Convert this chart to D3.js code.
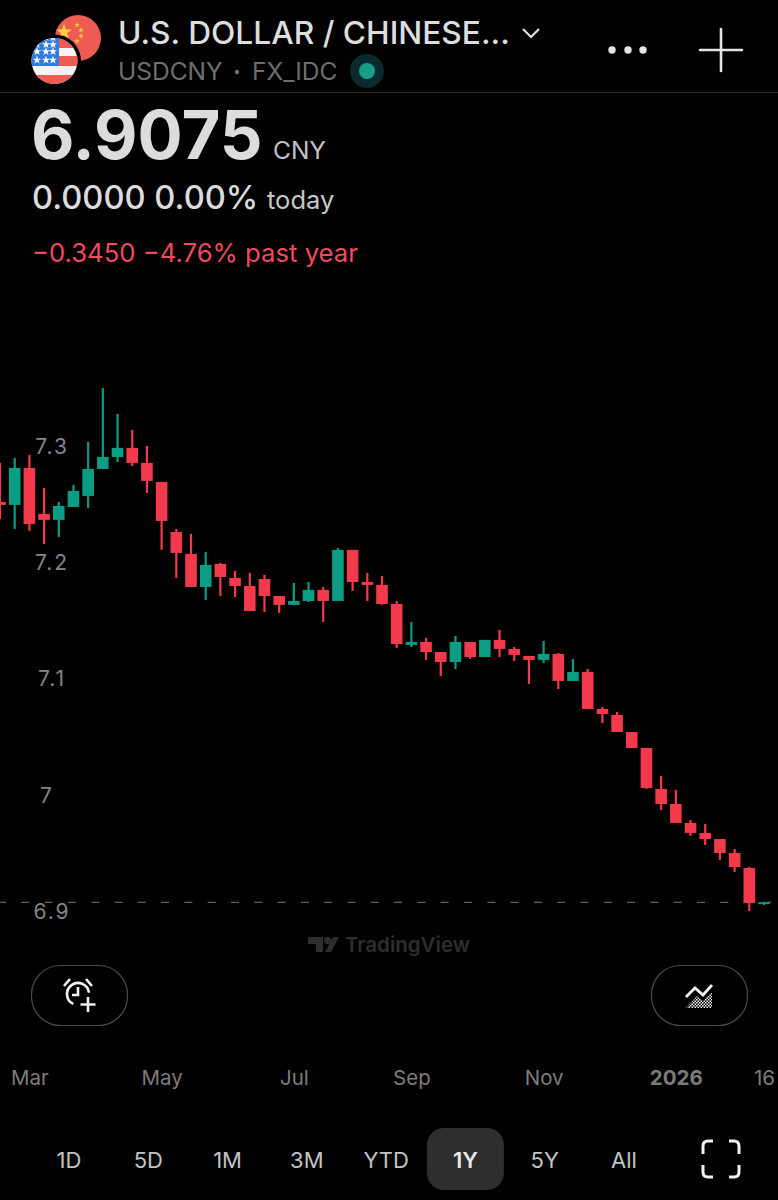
<!DOCTYPE html>
<html>
<head>
<meta charset="utf-8">
<title>USDCNY</title>
<script src="https://d3js.org/d3.v7.min.js"></script>
<style>
  html, body { margin: 0; background: #000; }
  svg { display: block; }
  text { font-family: Inter, "Noto Sans", sans-serif; }
</style>
</head>
<body>
<div id="chart"></div>
<script>
// weekly candles
const opens = [7.2517,7.2492,7.2810,7.2414,7.2363,7.2474,7.2569,7.2801,7.2904,7.2982,7.2853,7.2689,7.2259,7.2070,7.1786,7.1984,7.1864,7.1795,7.1855,7.1709,7.1632,7.1666,7.1761,7.1666,7.2105,7.1829,7.1804,7.1640,7.1288,7.1313,7.1227,7.1141,7.1313,7.1184,7.1331,7.1253,7.1193,7.1159,7.1210,7.0978,7.1055,7.0737,7.0686,7.0539,7.0402,7.0049,6.9920,6.9757,6.9671,6.9619,6.9499,6.9370,6.9060];
const highs = [7.2853,7.2896,7.2922,7.2638,7.2517,7.2664,7.3033,7.3497,7.3274,7.3137,7.2999,7.2689,7.2285,7.2242,7.2087,7.1993,7.1924,7.1907,7.1890,7.1709,7.1821,7.1829,7.1786,7.2122,7.2105,7.1907,7.1881,7.1666,7.1485,7.1348,7.1227,7.1365,7.1313,7.1331,7.1417,7.1270,7.1193,7.1322,7.1219,7.1167,7.1081,7.0754,7.0711,7.0539,7.0402,7.0161,7.0041,6.9783,6.9748,6.9619,6.9533,6.9378,6.9080];
const lows = [7.2371,7.2285,7.2268,7.2156,7.2216,7.2474,7.2466,7.2801,7.2861,7.2827,7.2595,7.2105,7.1864,7.1786,7.1675,7.1709,7.1700,7.1580,7.1571,7.1563,7.1632,7.1657,7.1485,7.1666,7.1752,7.1666,7.1632,7.1262,7.1270,7.1159,7.1021,7.1081,7.1167,7.1184,7.1184,7.1150,7.0952,7.1133,7.0909,7.0978,7.0737,7.0617,7.0539,7.0402,7.0049,6.9869,6.9757,6.9645,6.9568,6.9439,6.9335,6.9000,6.9052];
const closes = [7.2492,7.2810,7.2328,7.2363,7.2483,7.2612,7.2801,7.2904,7.2982,7.2853,7.2698,7.2354,7.2079,7.1786,7.1976,7.1872,7.1795,7.1580,7.1709,7.1632,7.1666,7.1761,7.1666,7.2105,7.1829,7.1804,7.1640,7.1296,7.1313,7.1227,7.1141,7.1313,7.1184,7.1331,7.1253,7.1202,7.1159,7.1210,7.0978,7.1055,7.0737,7.0694,7.0539,7.0402,7.0058,6.9920,6.9757,6.9671,6.9619,6.9499,6.9378,6.9069,6.9075];

const yTicks = [6.9, 7, 7.1, 7.2, 7.3];
const xTickIndex = [2, 11, 20, 28, 37, 46, 52];
const xTickLabels = ['Mar', 'May', 'Jul', 'Sep', 'Nov', '2026', '16'];
const lastPrice = 6.9075;
const ranges = ['1D', '5D', '1M', '3M', 'YTD', '1Y', '5Y', 'All'];
const activeRange = '1Y';

const width = 778;
const height = 1200;
const red = '#f23a4c';
const green = '#0b9c84';

const svg = d3.select('#chart').append('svg')
  .attr('width', width)
  .attr('height', height)
  .style('background', '#000');

const defs = svg.append('defs');

// scales
const x = d3.scaleLinear().domain([0, opens.length - 1]).range([0, 764]);
const y = d3.scaleLinear().domain([6.9, 7.3]).range([911, 445.8]);
const bodyWidth = 11.6;

// price axis sits under the candles
const yAxis = svg.append('g')
  .call(d3.axisLeft(y).tickValues(yTicks).tickSize(0).tickFormat(d3.format('')));
yAxis.select('.domain').remove();
yAxis.selectAll('text')
  .attr('x', d => d === 7 ? 47 : 52)
  .attr('dy', '0.36em')
  .attr('text-anchor', 'middle')
  .style('font-family', 'Inter, sans-serif')
  .style('font-size', '21px')
  .style('letter-spacing', '2px')
  .attr('fill', '#858585');

// last price line
svg.append('line')
  .attr('x1', 0).attr('x2', 771)
  .attr('y1', y(lastPrice)).attr('y2', y(lastPrice))
  .attr('stroke', '#5f5f5f')
  .attr('stroke-width', 1.2)
  .attr('stroke-dasharray', '8 15.3')
  .attr('stroke-dashoffset', 2);

// candles
const candles = svg.append('g').selectAll('g')
  .data(opens.map((o, i) => i))
  .enter().append('g')
  .attr('fill', i => closes[i] >= opens[i] ? green : red);

candles.append('rect')
  .attr('x', i => x(i) - 1.1)
  .attr('width', 2.2)
  .attr('y', i => y(highs[i]))
  .attr('height', i => y(lows[i]) - y(highs[i]));

candles.append('rect')
  .attr('x', i => x(i) - bodyWidth / 2)
  .attr('width', bodyWidth)
  .attr('y', i => y(Math.max(opens[i], closes[i])))
  .attr('height', i => Math.max(1.5, Math.abs(y(opens[i]) - y(closes[i]))));

// time axis
const xAxis = svg.append('g')
  .attr('transform', 'translate(0,1078)')
  .call(d3.axisBottom(x).tickValues(xTickIndex).tickSize(0)
    .tickFormat((d, i) => xTickLabels[i]));
xAxis.select('.domain').remove();
xAxis.selectAll('text')
  .attr('y', 0)
  .attr('dy', '0.36em')
  .style('font-family', 'Inter, sans-serif')
  .style('font-size', '20.5px')
  .style('font-weight', (d, i) => xTickLabels[i] === '2026' ? 700 : 400)
  .attr('fill', '#7c7c7c');

// helper for the header and footer texts
function label(txt, px, py, size, color, weight, anchor) {
  return svg.append('text')
    .attr('x', px).attr('y', py)
    .attr('fill', color)
    .attr('text-anchor', anchor || 'start')
    .style('font-size', size + 'px')
    .style('font-weight', weight || 400)
    .text(txt);
}

// flags
defs.append('clipPath').attr('id', 'cnClip').append('circle').attr('cx', 78).attr('cy', 38).attr('r', 23);
defs.append('clipPath').attr('id', 'usClip').append('circle').attr('cx', 54.5).attr('cy', 61).attr('r', 23);

svg.append('circle').attr('cx', 78).attr('cy', 38).attr('r', 23).attr('fill', '#ee5b52');
const starPath = d3.symbol().type(d3.symbolStar);
svg.append('path').attr('d', starPath.size(80)()).attr('transform', 'translate(64,32)').attr('fill', '#ffd23f');
[[77, 25], [81, 30], [81, 36], [77, 41]].forEach(p => {
  svg.append('path').attr('d', starPath.size(10)()).attr('transform', `translate(${p[0]},${p[1]})`).attr('fill', '#ffc93c');
});
svg.append('circle').attr('cx', 54.5).attr('cy', 61).attr('r', 26.5).attr('fill', '#000');

const us = svg.append('g').attr('clip-path', 'url(#usClip)');
us.append('rect').attr('x', 31).attr('y', 38).attr('width', 47).attr('height', 47).attr('fill', '#f3f3f3');
[[38, 10], [56, 10], [75, 10]].forEach(s => {
  us.append('rect').attr('x', 31).attr('y', s[0]).attr('width', 47).attr('height', s[1]).attr('fill', '#ee5b52');
});
us.append('rect').attr('x', 31).attr('y', 38).attr('width', 28).attr('height', 28).attr('fill', '#2f7be0');
[[46, 44], [53, 44], [53, 37], [46, 51], [53, 51], [37, 51], [46, 37], [37, 44]].forEach(p => {
  us.append('path').attr('d', starPath.size(22)()).attr('transform', `translate(${p[0]},${p[1] + 0.5})`).attr('fill', '#fff');
});
[[37, 60], [46, 60], [53, 60]].forEach(p => {
  us.append('path').attr('d', starPath.size(22)()).attr('transform', `translate(${p[0]},${p[1]})`).attr('fill', '#fff');
});

// header
label('U.S. DOLLAR / CHINESE...', 118, 44, 31.7, '#dedede', 500);
svg.append('path').attr('d', 'M523 29 L531 37 L539 29').attr('fill', 'none').attr('stroke', '#dedede').attr('stroke-width', 2.2);
label('USDCNY', 118, 80, 24.5, '#6e6e6e');
svg.append('circle').attr('cx', 237).attr('cy', 72).attr('r', 2.2).attr('fill', '#6e6e6e');
label('FX_IDC', 252, 80, 24.5, '#6e6e6e');
svg.append('circle').attr('cx', 367).attr('cy', 71).attr('r', 17).attr('fill', '#0b2a2e');
svg.append('circle').attr('cx', 367).attr('cy', 71).attr('r', 8).attr('fill', '#159f89');
[612, 628, 643].forEach(cx => {
  svg.append('circle').attr('cx', cx).attr('cy', 50).attr('r', 3.7).attr('fill', '#e4e4e4');
});
svg.append('path').attr('d', 'M700 50 H742 M721 29 V71').attr('stroke', '#e4e4e4').attr('stroke-width', 2.6).attr('stroke-linecap', 'round');
svg.append('line').attr('x1', 0).attr('x2', width).attr('y1', 92.5).attr('y2', 92.5).attr('stroke', '#2b2b2b').attr('stroke-width', 1);

label('6.9075', 31, 159, 67, '#dcdcdc', 700);
label('CNY', 273, 159, 24.5, '#c2c2c2');
label('0.0000 0.00%', 32, 209, 32.7, '#dcdcdc', 500);
label('today', 267, 209, 25.5, '#c8c8c8');
label('\u22120.3450 \u22124.76% past year', 32, 262, 25.7, '#f2495c');

// watermark
svg.append('path').attr('d', 'M308 937 H323 V952 H316 V944 H308 Z M333 937 H339 L331 952 H325 Z').attr('fill', '#2e2e2e');
svg.append('circle').attr('cx', 327.5).attr('cy', 940.5).attr('r', 3.5).attr('fill', '#2e2e2e');
label('TradingView', 345, 952, 20.5, '#2e2e2e', 600);

// buttons
[[31.5, 965.5], [651.5, 965.5]].forEach(b => {
  svg.append('rect').attr('x', b[0]).attr('y', b[1]).attr('width', 96).attr('height', 60).attr('rx', 29)
    .attr('fill', 'none').attr('stroke', '#4a4a4a').attr('stroke-width', 1.2);
});

// alarm icon
const alarm = svg.append('g').attr('fill', 'none').attr('stroke', '#f2f2f2').attr('stroke-width', 2.6);
alarm.append('path').attr('d', d3.arc()({ innerRadius: 11, outerRadius: 11, startAngle: -2.7, endAngle: 1.45 })).attr('transform', 'translate(78,994)');
alarm.append('path').attr('d', 'M78 987 V995 H72 M64 986 L70 979 M92 986 L86 979');
alarm.append('path').attr('d', 'M88 997 V1012 M80.5 1004.5 H95.5');

// area icon with its checker fill
const checks = defs.append('pattern').attr('id', 'checks').attr('width', 3).attr('height', 3)
  .attr('patternUnits', 'userSpaceOnUse');
checks.append('rect').attr('width', 1.5).attr('height', 1.5).attr('fill', '#eee');
checks.append('rect').attr('x', 1.5).attr('y', 1.5).attr('width', 1.5).attr('height', 1.5).attr('fill', '#eee');
svg.append('path').attr('d', 'M686 1008 L697 996 L703 1001 L712 992 V1008 Z').attr('fill', 'url(#checks)');
svg.append('path').attr('d', 'M686 997 L695 988 L703 995 L712 985').attr('fill', 'none').attr('stroke', '#f2f2f2').attr('stroke-width', 2.8);

// range selector
const rangeX = d3.scalePoint().domain(ranges).range([69, 624]);
svg.append('rect')
  .attr('x', rangeX(activeRange) - 38.5).attr('y', 1128)
  .attr('width', 77).attr('height', 62).attr('rx', 17)
  .attr('fill', '#2e2e2e');
ranges.forEach(r => {
  label(r, rangeX(r), 1168, 22, r === activeRange ? '#e8e8e8' : '#c4c4c4', r === activeRange ? 600 : 400, 'middle');
});

// fullscreen icon
svg.append('path')
  .attr('d', 'M703 1154 V1146 Q703 1141 708 1141 H713 M729 1141 H734 Q739 1141 739 1146 V1154 M703 1165 V1172 Q703 1177 708 1177 H713 M729 1177 H734 Q739 1177 739 1172 V1165')
  .attr('fill', 'none').attr('stroke', '#f2f2f2').attr('stroke-width', 3);
</script>
</body>
</html>
